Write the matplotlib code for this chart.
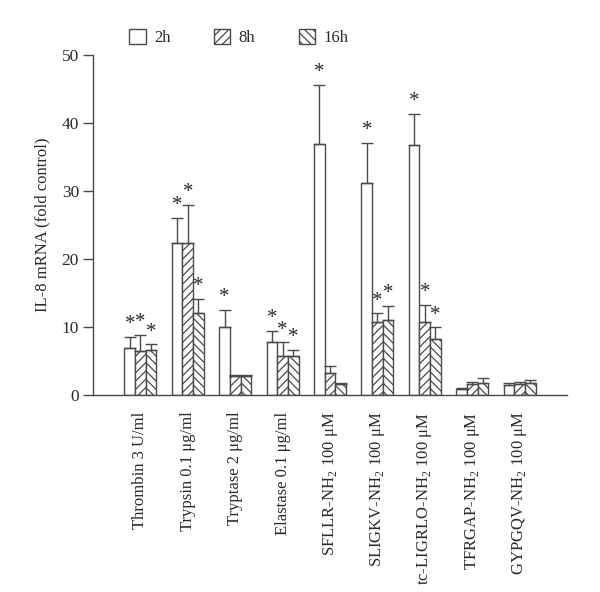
import matplotlib
matplotlib.use("Agg")
import matplotlib.pyplot as plt
import numpy as np
from matplotlib.patches import Patch

plt.rcParams["font.family"] = ["Liberation Serif", "DejaVu Serif"]
plt.rcParams["mathtext.fontset"] = "custom"
plt.rcParams["mathtext.rm"] = "Liberation Serif"
plt.rcParams["hatch.linewidth"] = 0.9

categories = ["Thrombin 3 U/ml", "Trypsin 0.1 μg/ml", "Tryptase 2 μg/ml",
              "Elastase 0.1 μg/ml", "SFLLR-NH$_2$ 100 μM", "SLIGKV-NH$_2$ 100 μM",
              "tc-LIGRLO-NH$_2$ 100 μM", "TFRGAP-NH$_2$ 100 μM", "GYPGQV-NH$_2$ 100 μM"]
series = ["2h", "8h", "16h"]
mean_2h = [6.9, 22.4, 9.95, 7.8, 36.9, 31.2, 36.8, 0.95, 1.5]
mean_8h = [6.4, 22.4, 2.8, 5.8, 3.3, 10.7, 10.7, 1.65, 1.6]
mean_16h = [6.6, 12.1, 2.8, 5.8, 1.6, 11.0, 8.2, 1.7, 1.7]
err_2h = [1.6, 3.7, 2.55, 1.6, 8.7, 5.9, 4.5, 0.1, 0.2]
err_8h = [2.4, 5.6, 0.1, 1.95, 0.9, 1.3, 2.5, 0.3, 0.35]
err_16h = [0.85, 2.0, 0.1, 0.8, 0.15, 2.1, 1.75, 0.8, 0.5]
sig_2h = [1, 1, 1, 1, 1, 1, 1, 0, 0]
sig_8h = [1, 1, 0, 1, 0, 1, 1, 0, 0]
sig_16h = [1, 1, 0, 1, 0, 1, 1, 0, 0]

means = [mean_2h, mean_8h, mean_16h]
errs = [err_2h, err_8h, err_16h]
sigs = [sig_2h, sig_8h, sig_16h]
hatches = ["", "////", "\\\\\\\\"]
ec = "#4a4a4a"
tc = "#2a2a2a"

fig = plt.figure(figsize=(6, 5.92), dpi=100)
ax = fig.add_axes([0.155, 0.3328, 0.79, 0.5743])

x = np.arange(len(categories))
w = 0.225
for k in range(3):
    pos = x + (k - 1) * w
    ax.bar(pos, means[k], width=w, color="white", edgecolor=ec, hatch=hatches[k],
           linewidth=1.0, zorder=2)
    ax.errorbar(pos, means[k], yerr=[np.zeros(len(x)), errs[k]], fmt="none",
                ecolor=ec, elinewidth=1.0, capsize=4, capthick=1.0, zorder=3)
    for p, m, e, s in zip(pos, means[k], errs[k], sigs[k]):
        if s:
            ax.annotate("*", (p, m + e), xytext=(0, 2), textcoords="offset points",
                        ha="center", va="bottom", fontsize=15, color=tc)

ax.set_xlim(-1.0, 9.0)
ax.set_ylim(0, 50)
ax.set_yticks([0, 10, 20, 30, 40, 50])
ax.set_xticks(x)
ax.set_xticklabels(categories, rotation=90, fontsize=12, color=tc)
ax.tick_params(axis="x", length=0, pad=12)
ax.tick_params(axis="y", direction="out", length=7, width=1, color=ec,
               labelsize=12.5, labelcolor=tc, pad=3)
for side in ["top", "right"]:
    ax.spines[side].set_visible(False)
for side in ["left", "bottom"]:
    ax.spines[side].set_color(ec)
    ax.spines[side].set_linewidth(1.0)
ax.set_ylabel("IL-8 mRNA (fold control)", fontsize=12, color=tc, labelpad=8)

handles = [Patch(facecolor="white", edgecolor=ec, hatch=h, label=s)
           for h, s in zip(hatches, series)]
fig.legend(handles=handles, loc="center", bbox_to_anchor=(0.398, 0.937), ncol=3,
           frameon=False, fontsize=12, handlelength=1.0, handleheight=1.0,
           columnspacing=2.6, handletextpad=0.5, labelcolor=tc)

fig.savefig("out.png", dpi=100)
